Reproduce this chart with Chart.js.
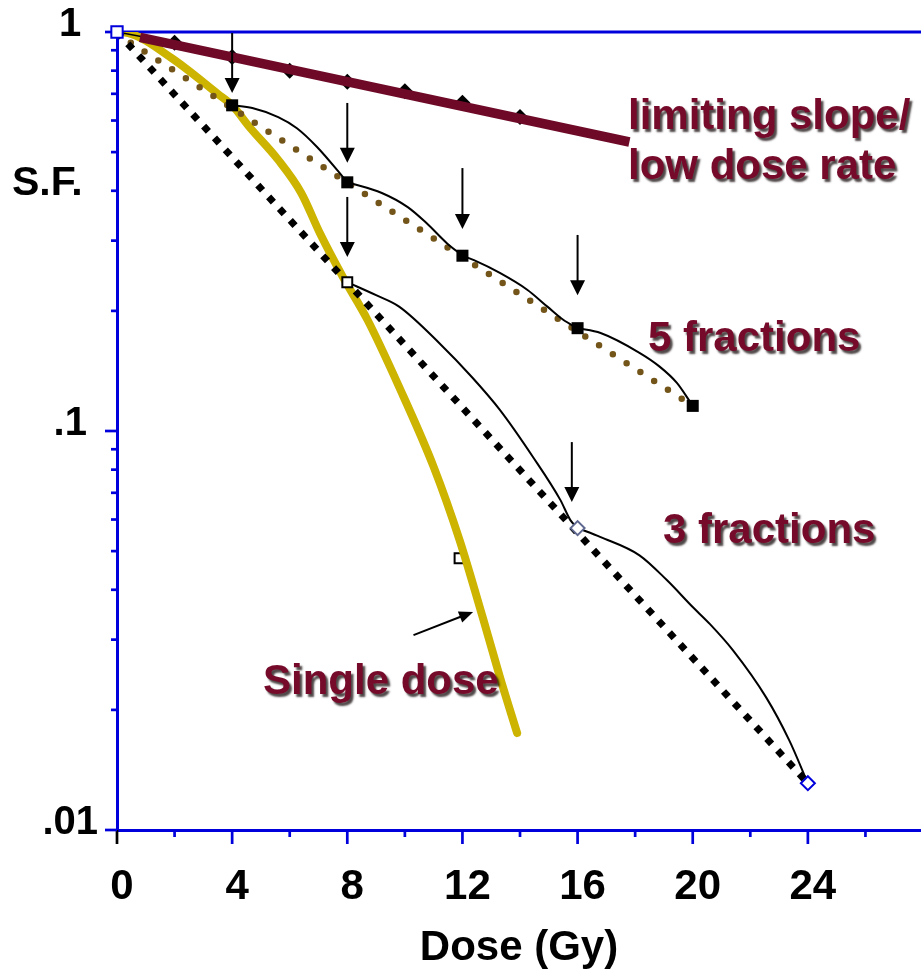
<!DOCTYPE html>
<html>
<head>
<meta charset="utf-8">
<script src="https://cdn.jsdelivr.net/npm/chart.js@4.4.1/dist/chart.umd.min.js"></script>
<style>
  html, body { margin: 0; padding: 0; background: #fff; overflow: hidden; }
  #wrap { width: 921px; height: 974px; position: relative; overflow: hidden; }
  #myChart { display: block; }
</style>
</head>
<body>
<div id="wrap"><canvas id="myChart"></canvas></div>
<script>
// dose in Gy, surviving fraction (log)
const singleX = [0, 0.4, 1.9, 3.5, 4, 4.6, 5.6, 6.4, 7.05, 7.85, 8.7, 9.8, 11, 11.9, 12.7, 13.3, 13.9];
const singleY = [1, 0.994, 0.86, 0.70, 0.655, 0.578, 0.478, 0.395, 0.313, 0.243, 0.19, 0.129, 0.0813, 0.0533, 0.0342, 0.0242, 0.0175];

const limitX = [0.8, 17.8];
const limitY = [0.97, 0.53];
const lowRateX = [0, 2, 4, 6, 8, 10, 12, 14];
const lowRateY = [1, 0.94, 0.866, 0.80, 0.75, 0.71, 0.665, 0.612];

const fiveLinX = [0, 20];
const fiveLinY = [0.99, 0.1156];
const threeLinX = [0, 24];
const threeLinY = [1, 0.0131];

// 5 x 4 Gy, one segment per fraction
const fiveSegX = [
  [4, 4.7, 5.6, 6.25, 6.95, 7.85, 8],
  [8, 9.2, 10.1, 10.75, 11.45, 12],
  [12, 12.4, 13.3, 14.25, 14.95, 15.5, 16],
  [16, 16.8, 18.15, 18.85, 19.45, 20]
];
const fiveSegY = [
  [0.655, 0.645, 0.612, 0.574, 0.515, 0.433, 0.42],
  [0.42, 0.395, 0.364, 0.332, 0.296, 0.275],
  [0.275, 0.268, 0.249, 0.226, 0.205, 0.19, 0.181],
  [0.181, 0.176, 0.157, 0.145, 0.132, 0.1156]
];
// 3 x 8 Gy
const threeSegX = [
  [8, 9, 9.8, 11.2, 12.35, 13.3, 14.45, 15.4, 15.75, 16],
  [16, 16.8, 18.15, 19.1, 20, 20.6, 21.4, 22.55, 23.35, 24]
];
const threeSegY = [
  [0.236, 0.219, 0.205, 0.166, 0.136, 0.113, 0.0861, 0.0672, 0.0598, 0.0571],
  [0.0571, 0.0542, 0.0488, 0.0423, 0.0362, 0.0328, 0.0282, 0.0215, 0.0168, 0.0131]
];

const fiveMarkX = [4, 8, 12, 16, 20];
const fiveMarkY = [0.655, 0.42, 0.275, 0.181, 0.1156];
const strayX = [11.9];
const strayY = [0.048];

// fraction arrows: x, top, tip
const arrowX = [4, 8, 8, 12, 16, 15.8];
const arrowTop = [0.994, 0.664, 0.386, 0.456, 0.31, 0.0938];
const arrowTip = [0.703, 0.47, 0.273, 0.321, 0.219, 0.0664];
const pointerFrom = [10.3, 0.0308];
const pointerTo = [12.37, 0.0352];

const xTickVals = [0, 4, 8, 12, 16, 20, 24];
const xTickLabels = ['0', '4', '8', '12', '16', '20', '24'];
const xMinorVals = [2, 6, 10, 14, 18, 22, 26];
const yTickVals = [0.01, 0.1, 1];
const yTickLabels = ['.01', '.1', '1'];
const yMinorVals = [0.02, 0.03, 0.04, 0.05, 0.06, 0.07, 0.08, 0.09, 0.2, 0.3, 0.4, 0.5, 0.6, 0.7, 0.8, 0.9];

const BLUE = '#0000dc';
const MAROON = '#760a2a';
const FONT = "'Liberation Sans', Arial, sans-serif";

function pts(xs, ys) {
  return xs.map((x, i) => ({x: x, y: ys[i]}));
}
function segs(xss, yss) {
  let out = [];
  xss.forEach((xs, i) => {
    if (i > 0) out.push({x: xs[0], y: null});
    out = out.concat(pts(xs, yss[i]));
  });
  return out;
}
function noPad(s) {
  s.paddingTop = 0; s.paddingBottom = 0; s.paddingLeft = 0; s.paddingRight = 0;
}

const decor = {
  id: 'decor',
  beforeDatasetsDraw(chart) {
    const {ctx, chartArea: a, scales: {x, y}} = chart;
    ctx.save();
    ctx.strokeStyle = BLUE;
    ctx.lineWidth = 3;
    ctx.beginPath();
    ctx.moveTo(a.left - 1.5, a.top);
    ctx.lineTo(chart.width, a.top);
    ctx.stroke();
    ctx.lineWidth = 2.7;
    xTickVals.forEach(v => {
      const px = x.getPixelForValue(v);
      ctx.strokeStyle = v === 0 ? '#000' : BLUE;
      ctx.beginPath(); ctx.moveTo(px, a.bottom); ctx.lineTo(px, a.bottom + 14); ctx.stroke();
    });
    ctx.strokeStyle = BLUE;
    xMinorVals.forEach(v => {
      const px = x.getPixelForValue(v);
      ctx.beginPath(); ctx.moveTo(px, a.bottom); ctx.lineTo(px, a.bottom + 7); ctx.stroke();
    });
    yTickVals.forEach(v => {
      const py = y.getPixelForValue(v);
      ctx.beginPath(); ctx.moveTo(a.left, py); ctx.lineTo(a.left - 12, py); ctx.stroke();
    });
    yMinorVals.forEach(v => {
      const py = y.getPixelForValue(v);
      ctx.beginPath(); ctx.moveTo(a.left, py); ctx.lineTo(a.left - 6, py); ctx.stroke();
    });
    ctx.restore();
  },
  afterDatasetsDraw(chart) {
    const {ctx, scales: {x, y}} = chart;
    ctx.save();
    ctx.strokeStyle = '#000';
    ctx.fillStyle = '#000';
    ctx.lineWidth = 2;
    arrowX.forEach((v, i) => {
      const px = x.getPixelForValue(v);
      const p0 = y.getPixelForValue(arrowTop[i]);
      const p1 = y.getPixelForValue(arrowTip[i]);
      ctx.beginPath(); ctx.moveTo(px, p0); ctx.lineTo(px, p1 - 12); ctx.stroke();
      ctx.beginPath();
      ctx.moveTo(px, p1); ctx.lineTo(px - 7.5, p1 - 15); ctx.lineTo(px + 7.5, p1 - 15);
      ctx.closePath(); ctx.fill();
    });
    // pointer to single dose curve
    const ax = x.getPixelForValue(pointerFrom[0]), ay = y.getPixelForValue(pointerFrom[1]);
    const bx = x.getPixelForValue(pointerTo[0]), by = y.getPixelForValue(pointerTo[1]);
    const ang = Math.atan2(by - ay, bx - ax);
    ctx.beginPath(); ctx.moveTo(ax, ay); ctx.lineTo(bx - 10 * Math.cos(ang), by - 10 * Math.sin(ang)); ctx.stroke();
    ctx.beginPath();
    ctx.moveTo(bx, by);
    ctx.lineTo(bx - 14 * Math.cos(ang) + 6 * Math.sin(ang), by - 14 * Math.sin(ang) - 6 * Math.cos(ang));
    ctx.lineTo(bx - 14 * Math.cos(ang) - 6 * Math.sin(ang), by - 14 * Math.sin(ang) + 6 * Math.cos(ang));
    ctx.closePath(); ctx.fill();

    // labels
    ctx.font = 'bold 42px ' + FONT;
    ctx.textAlign = 'left';
    ctx.textBaseline = 'alphabetic';
    ctx.shadowColor = 'rgba(20,10,10,0.75)';
    ctx.shadowOffsetX = 2.5;
    ctx.shadowOffsetY = 2.5;
    ctx.shadowBlur = 2;
    ctx.fillStyle = MAROON;
    ctx.fillText('limiting slope/', 628, 129);
    ctx.fillText('low dose rate', 628, 179);
    ctx.fillText('5 fractions', 648, 351);
    ctx.fillText('3 fractions', 663, 543);
    ctx.fillText('Single dose', 263, 694);
    ctx.shadowColor = 'transparent';
    ctx.fillStyle = '#000';
    ctx.font = 'bold 41px ' + FONT;
    ctx.fillText('S.F.', 12, 195);
    ctx.restore();
  }
};

const ctx = document.getElementById('myChart');

const chart = new Chart(ctx, {
  type: 'line',
  data: {
    datasets: [
      {
        label: 'fraction points',
        data: pts(fiveMarkX, fiveMarkY),
        showLine: false,
        pointStyle: 'rect',
        pointRadius: 8.5,
        pointBackgroundColor: '#000',
        pointBorderColor: '#000',
        pointBorderWidth: 0,
        order: 1,
        clip: false
      },
      {
        label: 'start',
        data: [{x: 0, y: 1}],
        showLine: false,
        pointStyle: 'rect',
        pointRadius: 8,
        pointBackgroundColor: '#fff',
        pointBorderColor: BLUE,
        pointBorderWidth: 2,
        order: 1,
        clip: false
      },
      {
        label: '3 fraction points',
        data: pts([8, 16, 24], [0.236, 0.0571, 0.0131]),
        showLine: false,
        pointStyle: ['rect', 'rectRot', 'rectRot'],
        pointRadius: [7, 7, 7],
        pointBackgroundColor: '#fff',
        pointBorderColor: ['#000', '#5f6890', BLUE],
        pointBorderWidth: 2,
        order: 1,
        clip: false
      },
      {
        label: '5 fractions',
        data: segs(fiveSegX, fiveSegY),
        borderColor: '#000',
        borderWidth: 2,
        pointRadius: 0,
        cubicInterpolationMode: 'monotone',
        spanGaps: false,
        order: 2
      },
      {
        label: '3 fractions',
        data: segs(threeSegX, threeSegY),
        borderColor: '#000',
        borderWidth: 2,
        pointRadius: 0,
        cubicInterpolationMode: 'monotone',
        spanGaps: false,
        order: 2
      },
      {
        label: '3 fx limit',
        data: pts(threeLinX, threeLinY),
        borderColor: '#000',
        borderWidth: 7,
        borderDash: [7, 9],
        borderCapStyle: 'butt',
        pointRadius: 0,
        order: 3
      },
      {
        label: '5 fx limit',
        data: pts(fiveLinX, fiveLinY),
        borderColor: '#73551a',
        borderWidth: 6.5,
        borderDash: [0, 16.4],
        borderCapStyle: 'round',
        pointRadius: 0,
        order: 3
      },
      {
        label: 'limiting slope',
        data: pts(limitX, limitY),
        borderColor: '#6e0a28',
        borderWidth: 9.5,
        borderCapStyle: 'butt',
        pointRadius: 0,
        order: 4
      },
      {
        label: 'low dose rate',
        data: pts(lowRateX, lowRateY),
        borderColor: '#000',
        borderWidth: 1.5,
        pointStyle: 'rectRot',
        pointRadius: [0, 8, 8, 8, 8, 8, 8, 8],
        pointBackgroundColor: '#000',
        pointBorderWidth: 0,
        order: 5
      },
      {
        label: 'Single dose',
        data: pts(singleX, singleY),
        borderColor: '#ccb400',
        borderWidth: 8,
        borderCapStyle: 'round',
        borderJoinStyle: 'round',
        pointRadius: 0,
        cubicInterpolationMode: 'monotone',
        order: 6
      },
      {
        label: 'stray',
        data: pts(strayX, strayY),
        showLine: false,
        pointStyle: 'rect',
        pointRadius: 7,
        pointBackgroundColor: '#fff',
        pointBorderColor: '#000',
        pointBorderWidth: 2,
        order: 7
      }
    ]
  },
  options: {
    responsive: true,
    maintainAspectRatio: false,
    animation: false,
    events: [],
    layout: { autoPadding: false, padding: { top: 32, left: 0, right: 0, bottom: 0 } },
    plugins: {
      legend: { display: false },
      tooltip: { enabled: false }
    },
    scales: {
      x: {
        type: 'linear',
        min: 0,
        max: 27.93,
        afterBuildTicks: s => { s.ticks = xTickVals.map(v => ({value: v})); },
        afterFit: s => { s.height = 144; noPad(s); },
        grid: { display: false, drawTicks: false },
        border: { display: true, color: BLUE, width: 3 },
        ticks: {
          autoSkip: false,
          maxRotation: 0,
          padding: 32,
          labelOffset: 5,
          color: '#000',
          font: { family: FONT, size: 42, weight: 'bold' },
          callback: (v) => xTickLabels[xTickVals.indexOf(v)]
        },
        title: {
          display: true,
          text: 'Dose (Gy)',
          color: '#000',
          font: { family: FONT, size: 42, weight: 'bold', lineHeight: 1 },
          padding: { top: 0, bottom: 5 }
        }
      },
      y: {
        type: 'logarithmic',
        min: 0.01,
        max: 1,
        afterBuildTicks: s => { s.ticks = yTickVals.map(v => ({value: v})); },
        afterFit: s => { s.width = 117; noPad(s); },
        grid: { display: false, drawTicks: false },
        border: { display: true, color: BLUE, width: 3 },
        ticks: {
          autoSkip: false,
          crossAlign: 'center',
          padding: 19,
          labelOffset: -7,
          color: '#000',
          font: { family: FONT, size: 40, weight: 'bold' },
          callback: (v) => yTickLabels[yTickVals.indexOf(v)]
        }
      }
    }
  },
  plugins: [decor]
});
</script>
</body>
</html>
